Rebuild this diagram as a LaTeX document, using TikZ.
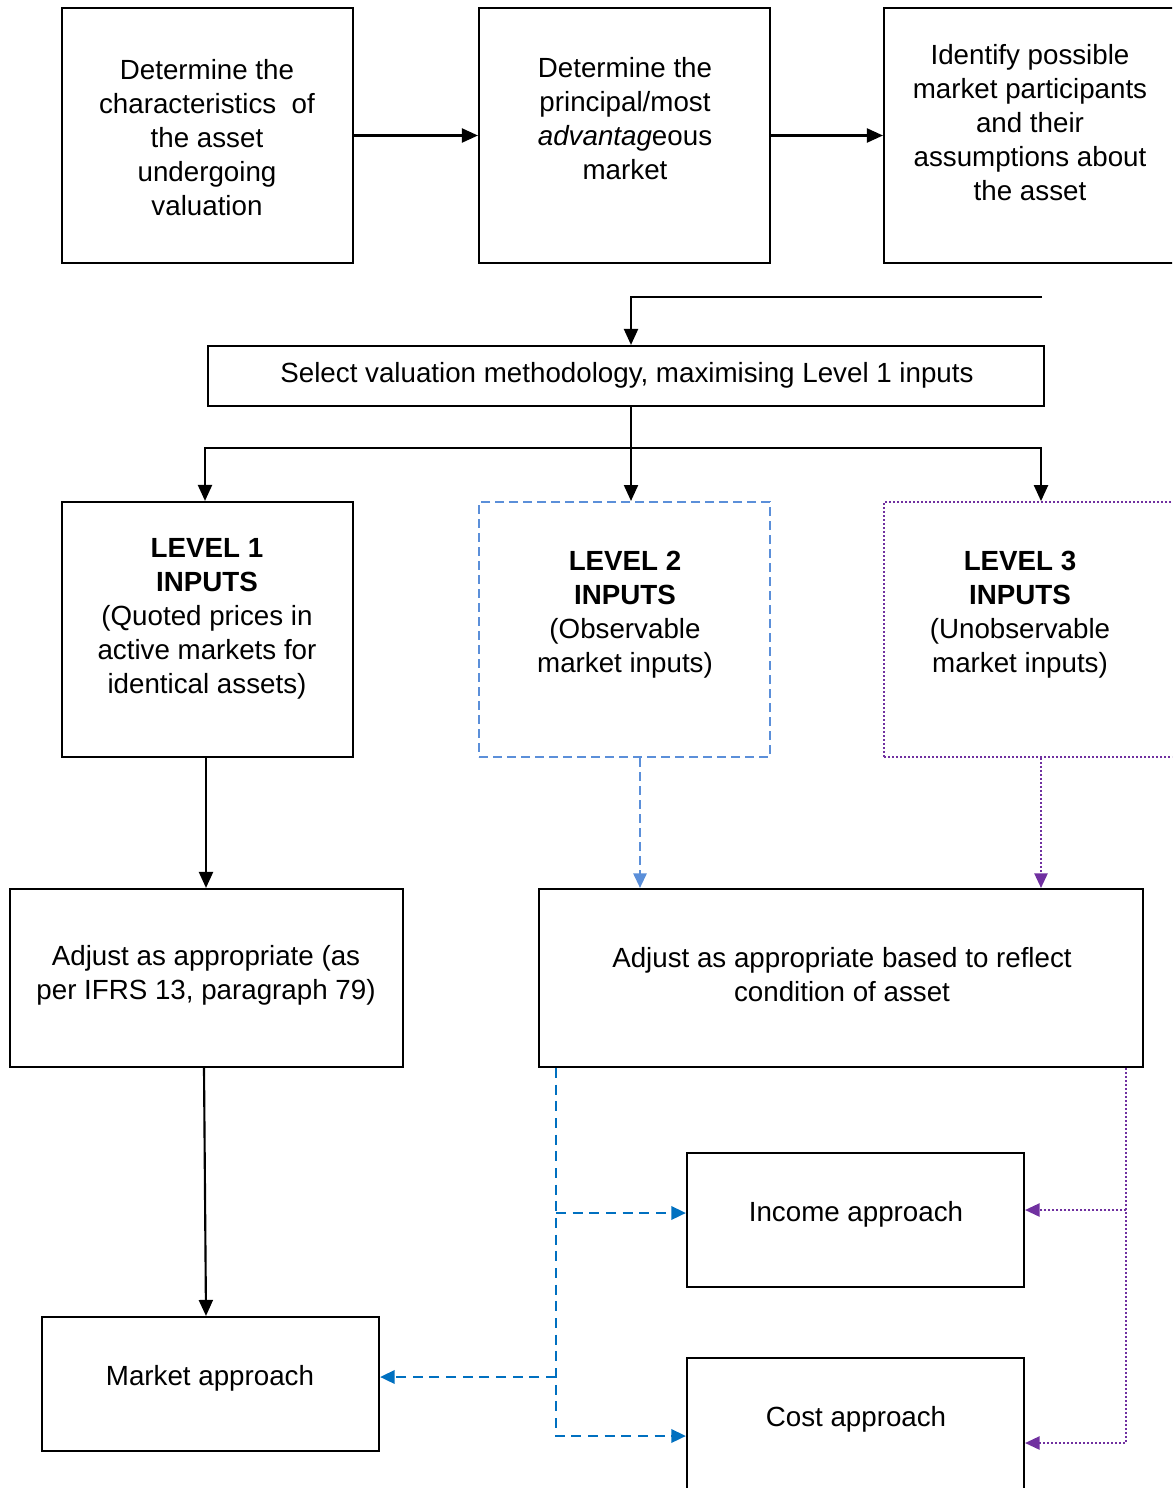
\documentclass[tikz,border=0pt]{standalone}
\usepackage{fontspec}
\setmainfont{Liberation Sans}
\usetikzlibrary{arrows.meta}
\definecolor{lblue}{HTML}{5B8FD9}
\definecolor{dblue}{HTML}{0070C0}
\definecolor{purp}{HTML}{7030A0}
\newcommand{\dfs}{\fontsize{20.8}{25.5}\selectfont}
\begin{document}
\begin{tikzpicture}[x=0.75pt,y=-0.75pt,
  box/.style={draw=black,line width=1.6pt,rectangle,inner sep=0pt},
  txt/.style={align=center,font=\dfs,inner sep=0pt},
  arr/.style={line width=1.6pt,-{Triangle[length=12pt,width=10.5pt]}},
  plain/.style={line width=1.6pt},
  ltwo/.style={draw=lblue,line width=1.5pt,dash pattern=on 6.5pt off 4pt},
  lthree/.style={draw=purp,line width=1.3pt,dash pattern=on 1.5pt off 1.5pt},
  bl/.style={draw=dblue,line width=1.9pt,dash pattern=on 7.5pt off 5pt,-{Triangle[length=11pt,width=10pt]}},
  pu/.style={draw=purp,line width=1.3pt,dash pattern=on 1.5pt off 1.5pt,-{Triangle[length=11pt,width=10pt]}}]
\useasboundingbox (0,0) rectangle (1172,1488);
\fill[white] (0,0) rectangle (1172,1488);
\clip (0,0) rectangle (1172,1488);

% top row
\node[box,minimum width=218.25pt,minimum height=191.25pt] (a) at (207.5,135.5) {};
\node[box,minimum width=218.25pt,minimum height=191.25pt] (b) at (624.5,135.5) {};
\node[box,minimum width=235.5pt,minimum height=191.25pt] (c) at (1041,135.5) {};
\node[txt] (ta) at (207,138) {Determine the\\characteristics~ of\\the asset\\undergoing\\valuation};
\node[txt] (tb) at (625,119) {Determine the\\principal/most\\\textit{advantag}eous\\market};
\node[txt] (tc) at (1030,123) {Identify possible\\market participants\\and their\\assumptions about\\the asset};

% select
\node[box,minimum width=627pt,minimum height=45pt] (sel) at (626,376) {};
\node[txt] (tsel) at (627,375) {Select valuation methodology, maximising Level 1 inputs};

% levels
\node[box,minimum width=218.25pt,minimum height=191.25pt] (l1) at (207.5,629.5) {};
\node[ltwo,rectangle,inner sep=0pt,minimum width=218.25pt,minimum height=191.25pt] (l2) at (624.5,629.5) {};
\node[lthree,rectangle,inner sep=0pt,minimum width=235.5pt,minimum height=191.25pt] (l3) at (1041,629.5) {};
\node[txt] (tl1) at (207,619) {\textbf{LEVEL 1}\\\textbf{INPUTS}\\(Quoted prices in\\active markets for\\identical assets)};
\node[txt] (tl2) at (625,615) {\textbf{LEVEL 2}\\\textbf{INPUTS}\\(Observable\\market inputs)};
\node[txt] (tl3) at (1020,615) {\textbf{LEVEL 3}\\\textbf{INPUTS}\\(Unobservable\\market inputs)};

% adjust
\node[box,minimum width=294.75pt,minimum height=133.5pt] (adj1) at (206.5,978) {};
\node[box,minimum width=453pt,minimum height=133.5pt] (adj2) at (841,978) {};
\node[txt] (tadj1) at (206,975) {Adjust as appropriate (as\\per IFRS 13, paragraph 79)};
\node[txt] (tadj2) at (842,975) {Adjust as appropriate based to reflect\\condition of asset};

% approaches
\node[box,minimum width=252.75pt,minimum height=100.5pt] (mkt) at (210.5,1384) {};
\node[box,minimum width=252.75pt,minimum height=100.5pt] (inc) at (855.5,1220) {};
\node[box,minimum width=252.75pt,minimum height=117pt] (cost) at (855.5,1436) {};
\node[txt] (tmkt) at (210,1378) {Market approach};
\node[txt] (tinc) at (856,1214) {Income approach};
\node[txt] (tcost) at (856,1419) {Cost approach};

% top connectors
\draw[arr] (a.east) -- (b.west);
\draw[arr] (b.east) -- (c.west);
\coordinate (t1) at (1042,297);
\coordinate (x631) at (631,0);
\draw[arr] (t1) -| (sel.north -| x631);
\coordinate (j) at (631,448);
\coordinate (x205) at (205,0);
\draw[plain] (sel.south -| x631) -- (j);
\draw[arr] (j) -| (l1.north -| x205);
\draw[arr] (j) -- (l2.north -| x631);
\draw[arr] (j) -| (l3.north);

% level to adjust
\coordinate (x206) at (206,0);
\draw[arr] (l1.south -| x206) -- (adj1.north -| x206);
\coordinate (x640) at (640,0);
\draw[draw=lblue,line width=1.5pt,dash pattern=on 6.5pt off 4pt,-{Triangle[length=11pt,width=10pt,fill=lblue]}] (l2.south -| x640) -- (adj2.north -| x640);
\draw[pu] (l3.south) -- (l3.south |- adj2.north);

% adjust to approaches
\coordinate (x204) at (204,0);
\draw[arr] (adj1.south -| x204) -- (mkt.north -| x206);
\coordinate (x556) at (556,0);
\coordinate (iw) at ([yshift=5.25pt]inc.west);
\coordinate (mw) at ([yshift=5.25pt]mkt.east);
\draw[bl] (adj2.south -| x556) |- (cost.west);
\draw[bl] (x556 |- iw) -- (iw);
\draw[bl] (x556 |- mw) -- (mw);
\coordinate (x1126) at (1126,0);
\coordinate (ie) at ([yshift=7.5pt]inc.east);
\coordinate (ce) at ([yshift=-5.25pt]cost.east);
\draw[pu] (adj2.south -| x1126) |- (ce);
\draw[pu] (x1126 |- ie) -- (ie);
\end{tikzpicture}
\end{document}
